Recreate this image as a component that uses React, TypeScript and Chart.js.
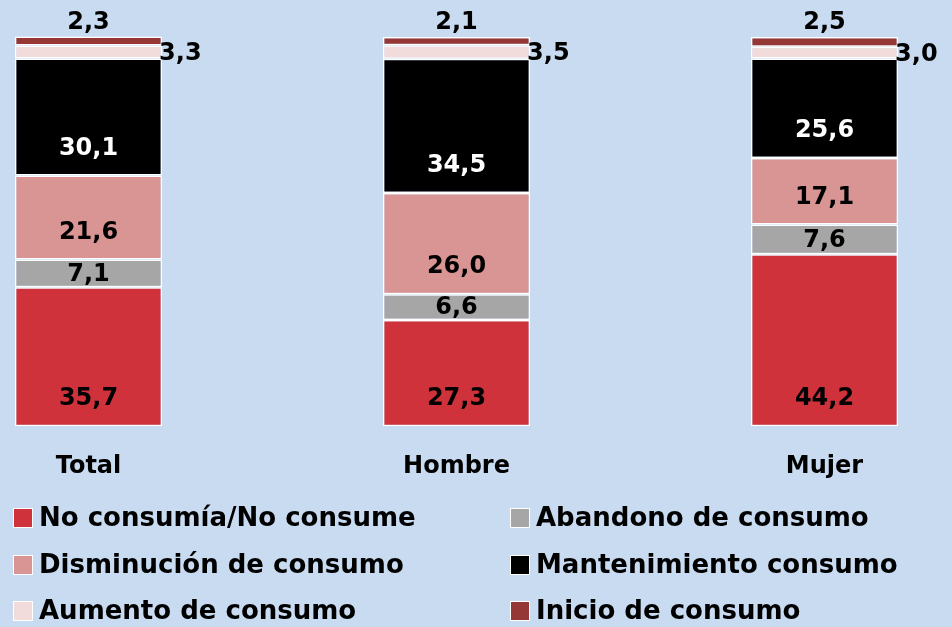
import React, { useEffect, useRef } from "react";
import { Chart, registerables } from "chart.js";

Chart.register(...registerables);

const categories = ["Total", "Hombre", "Mujer"];
const seriesNames = [
  "No consumía/No consume",
  "Abandono de consumo",
  "Disminución de consumo",
  "Mantenimiento consumo",
  "Aumento de consumo",
  "Inicio de consumo",
];
const noConsumia = [35.7, 27.3, 44.2];
const abandono = [7.1, 6.6, 7.6];
const disminucion = [21.6, 26.0, 17.1];
const mantenimiento = [30.1, 34.5, 25.6];
const aumento = [3.3, 3.5, 3.0];
const inicio = [2.3, 2.1, 2.5];
const seriesValues = [noConsumia, abandono, disminucion, mantenimiento, aumento, inicio];
const seriesColors = ["#D0323B", "#A6A6A6", "#D99594", "#000000", "#F2DCDB", "#953735"];
const labelColors = ["#000", "#000", "#000", "#fff", "#000", "#000"];

const FONT = "'DejaVu Sans', sans-serif";
const BG = "#C8DBF0";

const fmt = (v: number) => v.toFixed(1).replace(".", ",");

const labelPlugin = {
  id: "segLabels",
  afterDatasetsDraw(chart: any) {
    const ctx = chart.ctx;
    ctx.save();
    ctx.font = `bold 24px ${FONT}`;
    chart.data.datasets.forEach((ds: any, di: number) => {
      const meta = chart.getDatasetMeta(di);
      meta.data.forEach((bar: any, i: number) => {
        const { x, y, base, width } = bar.getProps(["x", "y", "base", "width"], true);
        const text = fmt(ds.data[i]);
        ctx.fillStyle = labelColors[di];
        ctx.textBaseline = "middle";
        if (di === 5) {
          ctx.textAlign = "center";
          ctx.fillText(text, x, y - 14);
        } else if (di === 4) {
          ctx.textAlign = "left";
          ctx.fillText(text, x + width / 2 - 3, (y + base) / 2 + 2);
        } else {
          const h = base - y;
          ctx.textAlign = "center";
          ctx.fillText(text, x, base - Math.min(28, h / 2) + 1);
        }
      });
    });
    ctx.restore();
  },
};

const legendPlugin = {
  id: "gridLegend",
  afterDraw(chart: any) {
    const ctx = chart.ctx;
    ctx.save();
    ctx.font = `bold 26px ${FONT}`;
    ctx.textBaseline = "middle";
    ctx.textAlign = "left";
    const colX = [14, 511];
    const rowY = [518, 565, 611];
    chart.data.datasets.forEach((ds: any, di: number) => {
      const cx = colX[di % 2];
      const cy = rowY[Math.floor(di / 2)];
      ctx.fillStyle = "#ffffff";
      ctx.fillRect(cx - 1, cy - 10, 20, 20);
      ctx.fillStyle = ds.backgroundColor;
      ctx.fillRect(cx, cy - 9, 18, 18);
      ctx.fillStyle = "#000";
      ctx.fillText(ds.label, cx + 25, cy + 1);
    });
    ctx.restore();
  },
};

export default function App() {
  const ref = useRef<HTMLCanvasElement>(null);
  useEffect(() => {
    if (!ref.current) return;
    const chart = new Chart(ref.current, {
      type: "bar",
      data: {
        labels: categories,
        datasets: seriesNames.map((name, i) => ({
          label: name,
          data: seriesValues[i],
          backgroundColor: seriesColors[i],
          borderColor: "#ffffff",
          borderWidth: 1.5,
          borderSkipped: false,
          categoryPercentage: 0.8,
          barPercentage: 0.5,
          clip: false as any,
        })),
      },
      options: {
        animation: false,
        responsive: false,
        maintainAspectRatio: false,
        layout: { padding: { left: 88.5, right: 127.5, top: 37, bottom: 128 } },
        plugins: { legend: { display: false }, tooltip: { enabled: false } },
        scales: {
          x: {
            stacked: true,
            offset: false,
            grid: { display: false },
            border: { display: false },
            ticks: {
              color: "#000",
              padding: 18,
              font: { family: FONT, size: 24, weight: "bold", lineHeight: 1.2 },
            },
          },
          y: {
            stacked: true,
            min: 0,
            max: 100,
            display: false,
          },
        },
      },
      plugins: [labelPlugin, legendPlugin],
    });
    return () => chart.destroy();
  }, []);
  return (
    <div style={{ position: "fixed", left: 0, top: 0, width: 952, height: 627, background: BG }}>
      <canvas ref={ref} width={952} height={627} style={{ display: "block" }} />
    </div>
  );
}
